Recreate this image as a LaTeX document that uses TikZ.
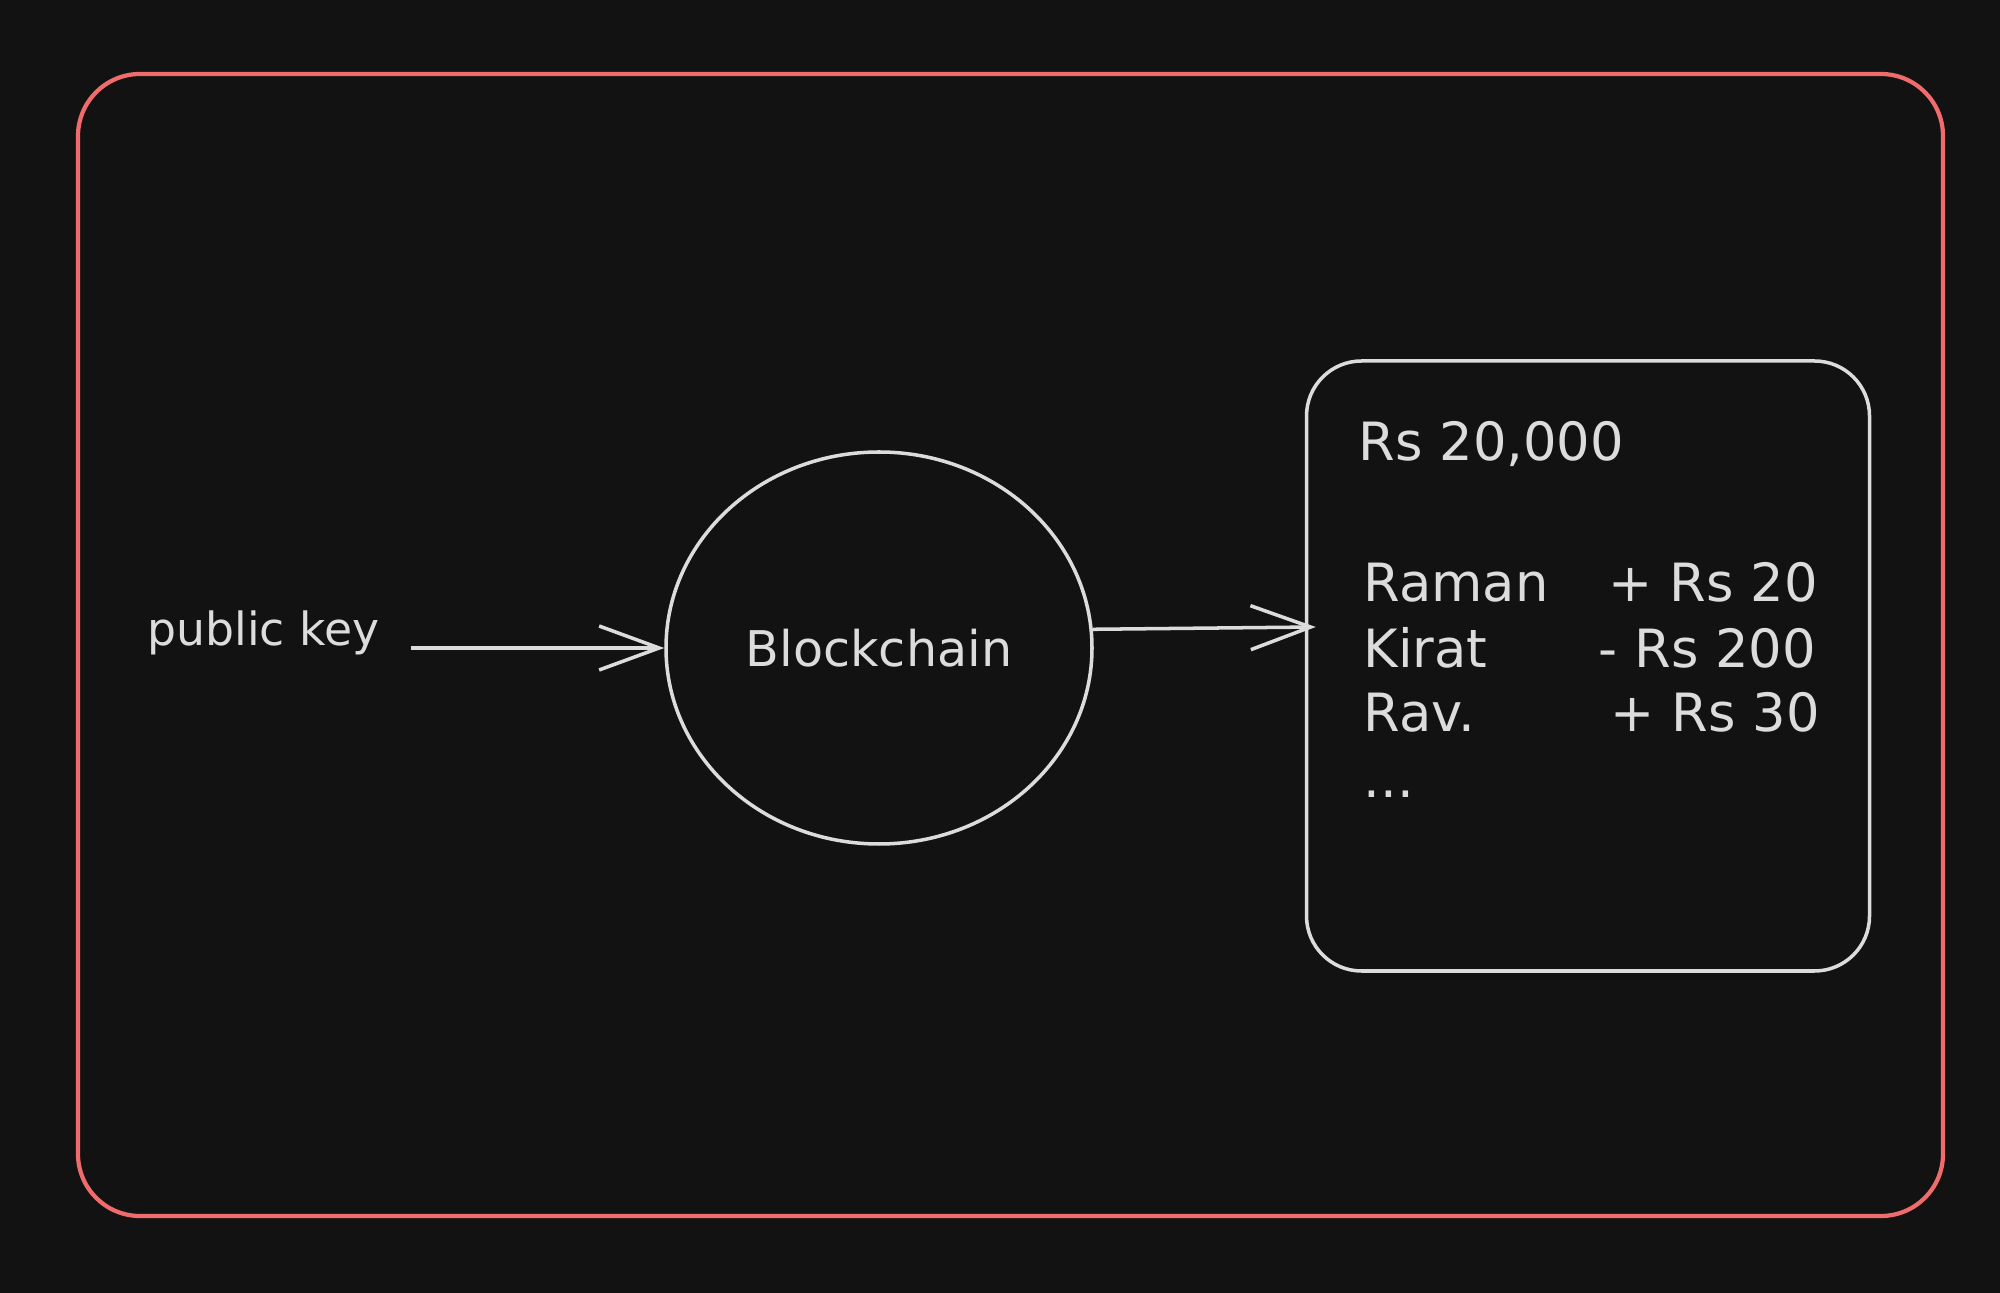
\documentclass[tikz,border=0pt]{standalone}
\usepackage{fontspec}
\setmainfont{DejaVu Sans}
\usetikzlibrary{positioning, shapes.geometric, arrows.meta}
\definecolor{bgc}{HTML}{121212}
\definecolor{inkc}{HTML}{DCDCDC}
\definecolor{redc}{HTML}{F06B6B}
\tikzset{
ink/.style={draw=inkc, text=inkc, line width=1pt}, % light pencil strokes
link/.style={draw=inkc, line width=1pt, -{Straight Barb[length=6mm,width=4.4mm]}}, % open arrow heads
txt/.style={text=inkc, inner sep=0pt, font=\fontsize{15}{18}\selectfont}, % hand written text
}

\begin{document}
\begin{tikzpicture}
    \fill[bgc] (0,0) rectangle (20,12.93);
    \draw[redc, line width=1.2pt, rounded corners=0.62cm] (0.78,0.77) rectangle (19.43,12.19);

    \node[ink, ellipse, minimum width=4.26cm, minimum height=3.92cm, inner sep=0pt, font=\fontsize{14}{17}\selectfont] (chain) at (8.79,6.45) {Blockchain};
    \node[txt, font=\fontsize{13}{16}\selectfont, left=2.84cm of chain, yshift=0.15cm] (pk) {public key};
    \node[ink, rounded corners=0.55cm, minimum width=5.63cm, minimum height=6.10cm, right=2.11cm of chain, yshift=-0.18cm] (ledger) {};

    \node[txt, anchor=base west] (bal) at (13.58,8.32) {Rs 20,000};
    \node[txt, anchor=base west] (raman) at (13.63,6.91) {Raman};
    \node[txt, anchor=base west] (kirat) at (13.63,6.25) {Kirat};
    \node[txt, anchor=base west] (rav) at (13.63,5.61) {Rav.};
    \node[txt, anchor=base west] (more) at (13.63,4.95) {...};
    \node[txt, anchor=base west] (amt1) at (16.08,6.91) {+ Rs 20};
    \node[txt, anchor=base west] (amt2) at (15.98,6.25) {- Rs 200};
    \node[txt, anchor=base west] (amt3) at (16.10,5.61) {+ Rs 30};

    \draw[link] ([xshift=0.31cm, yshift=-0.15cm]pk.east) -- (chain.west);
    \draw[link] (chain.5) -- ([xshift=0.11cm, yshift=0.39cm]ledger.west);
\end{tikzpicture}
\end{document}
